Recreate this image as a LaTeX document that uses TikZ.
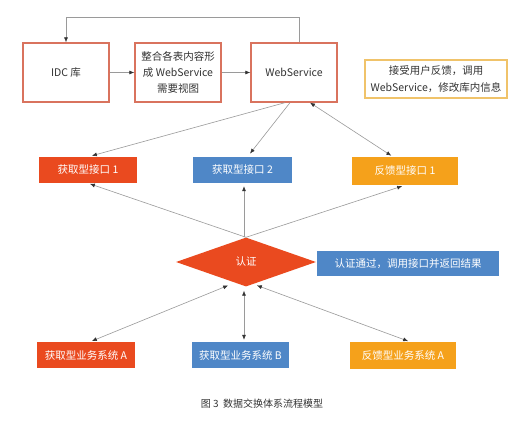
\documentclass[tikz,border=0pt]{standalone}
\usepackage{fontspec}
\setmainfont{Noto Sans CJK SC}
\usetikzlibrary{arrows.meta,shapes.geometric}
\definecolor{cred}{HTML}{EA4A1F}
\definecolor{cblue}{HTML}{4F87C7}
\definecolor{corange}{HTML}{F5A11B}
\definecolor{cborder}{HTML}{D9735E}
\definecolor{cnote}{HTML}{F0C36A}
\definecolor{cline}{HTML}{9A9A9A}
\definecolor{ctext}{HTML}{333333}
\begin{document}
\begin{tikzpicture}[x=1pt,y=-1pt,
  topbox/.style={draw=cborder,line width=1.3pt,fill=white,minimum width=86pt,minimum height=59pt,
    text=ctext,font=\fontsize{10.5}{16}\selectfont,align=center,inner sep=0pt},
  colbox/.style={fill=#1,text=white,font=\fontsize{10.5}{13}\selectfont,inner sep=0pt,minimum height=26pt},
  arr/.style={draw=cline,line width=0.6pt,-{Latex[length=5pt,width=4pt,color=black!80]}},
  darr/.style={draw=cline,line width=0.6pt,{Latex[length=5pt,width=4pt,color=black!80]}-{Latex[length=5pt,width=4pt,color=black!80]}}
]
\useasboundingbox[fill=white] (0,0) rectangle (530,422);

% top row
\node[topbox] (idc) at (66,72.5) {IDC 库};
\node[topbox] (mid) at (178,72.5) {整合各表内容形\\成 WebService\\需要视图};
\node[topbox] (ws) at (294,72.5) {WebService};
\node[draw=cnote,line width=1.3pt,fill=white,minimum width=142pt,minimum height=38pt,inner sep=0pt,
  text=ctext,font=\fontsize{10.5}{17}\selectfont,align=center] (note) at (436,79)
  {接受用户反馈，调用\\WebService，修改库内信息};

% interface row
\node[colbox=cred,minimum width=98pt] (i1) at (88,170) {获取型接口 1};
\node[colbox=cblue,minimum width=99pt] (i2) at (242.5,170) {获取型接口 2};
\node[colbox=corange,minimum width=106pt,minimum height=28pt] (i3) at (405,171) {反馈型接口 1};

% auth row
\node[diamond,fill=cred,minimum width=140pt,minimum height=49pt,inner sep=0pt,text=white,
  font=\fontsize{10.5}{13}\selectfont] (auth) at (246,262) {认证};
\node[colbox=cblue,minimum width=182pt,minimum height=25pt] (anote) at (408,263.5) {认证通过，调用接口并返回结果};

% business row
\node[colbox=cred,minimum width=98pt] (b1) at (86,355) {获取型业务系统 A};
\node[colbox=cblue,minimum width=97pt] (b2) at (240.5,355) {获取型业务系统 B};
\node[colbox=corange,minimum width=106pt,minimum height=27pt] (b3) at (403,355.5) {反馈型业务系统 A};

% caption
\node[text=ctext,font=\fontsize{10}{12}\selectfont] (cap) at (262,404) {图 3 \ 数据交换体系流程模型};

% connectors top
\coordinate (loop) at (66,17);
\draw[arr] ([xshift=5pt]ws.north) |- (loop) -- (idc.north);
\draw[arr] (idc.east) -- (mid.west);
\draw[arr] (mid.east) -- (ws.west);

\draw[arr,shorten >=4pt] ([xshift=-9pt]ws.south) -- (i1.north);
\draw[arr,shorten >=4pt] ([xshift=-4pt]ws.south) -- ([xshift=5pt]i2.north);
\draw[darr,shorten >=2pt] ([xshift=16pt]ws.south) -- ([xshift=-12pt]i3.north);

% auth to interfaces
\draw[arr,shorten >=2pt] (auth.north) -- (i1.south);
\draw[arr,shorten >=3pt] ([xshift=-2pt]auth.north) -- ([xshift=1.5pt]i2.south);
\draw[arr,shorten >=3pt] (auth.north) -- (i3.south);

% business to auth
\draw[darr,shorten <=2pt,shorten >=2pt] ([xshift=-16pt,yshift=2pt]auth.south) -- ([xshift=4pt]b1.north);
\draw[darr,shorten <=4pt,shorten >=2pt] ([xshift=-2pt]auth.south) -- ([xshift=3.5pt]b2.north);
\draw[darr,shorten <=2pt,shorten >=2pt] ([xshift=9pt,yshift=2pt]auth.south) -- ([xshift=7pt]b3.north);
\end{tikzpicture}
\end{document}
